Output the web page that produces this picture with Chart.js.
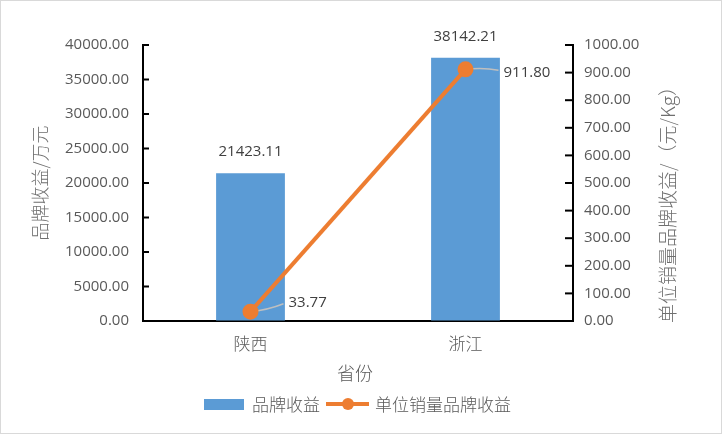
<!DOCTYPE html>
<html>
<head>
<meta charset="utf-8">
<script src="https://cdn.jsdelivr.net/npm/chart.js@4/dist/chart.umd.min.js"></script>
<style>
  html, body { margin: 0; padding: 0; background: #fff; }
  #box { width: 722px; height: 434px; position: relative; }
</style>
</head>
<body>
<div id="box"><canvas id="myChart"></canvas></div>
<script>
// 数据
const provinces = ['陕西', '浙江'];
const brandIncome = [21423.11, 38142.21];       // 品牌收益/万元
const unitIncome = [33.77, 911.80];             // 单位销量品牌收益/（元/Kg）
const leftTicks = [0, 5000, 10000, 15000, 20000, 25000, 30000, 35000, 40000];
const rightTicks = [0, 100, 200, 300, 400, 500, 600, 700, 800, 900, 1000];

const FONT = "'Open Sans','Noto Sans CJK SC',sans-serif";
const CJK = "'Noto Sans CJK SC','Open Sans',sans-serif";
const BLUE = '#5B9BD5';
const ORANGE = '#ED7D31';
const GRAY = '#595959';

const customPlugin = {
    id: 'custom',
    beforeDraw(chart) {
        const ctx = chart.ctx;
        ctx.save();
        ctx.fillStyle = '#fff';
        ctx.fillRect(0, 0, chart.width, chart.height);
        ctx.strokeStyle = '#d9d9d9';
        ctx.lineWidth = 1;
        ctx.strokeRect(0.5, 0.5, chart.width - 1, chart.height - 1);
        ctx.restore();
    },
    beforeDatasetDraw(chart, args) {
        // 引导线
        if (args.index !== 1) return;
        const ctx = chart.ctx;
        const pts = chart.getDatasetMeta(1).data;
        ctx.save();
        ctx.strokeStyle = '#bfbfbf';
        ctx.lineWidth = 1.5;
        pts.forEach(p => {
            ctx.beginPath();
            ctx.moveTo(p.x, p.y);
            ctx.quadraticCurveTo(p.x + 18, p.y - 2, p.x + 33, p.y - 8 + (p.y < 150 ? 9 : 0));
            ctx.stroke();
        });
        ctx.restore();
    },
    afterDatasetsDraw(chart) {
        const ctx = chart.ctx;
        ctx.save();
        ctx.font = '15px ' + FONT;
        ctx.fillStyle = '#404040';
        ctx.textBaseline = 'middle';
        // 柱子数值
        ctx.textAlign = 'center';
        chart.getDatasetMeta(0).data.forEach((bar, i) => {
            ctx.fillText(brandIncome[i].toFixed(2), bar.x, bar.y - 21);
        });
        // 折线数值
        ctx.textAlign = 'left';
        chart.getDatasetMeta(1).data.forEach((p, i) => {
            const dy = p.y < 150 ? 3 : -9;
            ctx.fillText(unitIncome[i].toFixed(2), p.x + 38, p.y + dy);
        });
        ctx.restore();
    },
    afterDraw(chart) {
        const ctx = chart.ctx;
        const a = chart.chartArea;
        ctx.save();
        // 刻度线（向内）
        ctx.strokeStyle = '#000';
        ctx.lineWidth = 2;
        const yl = chart.scales.y;
        leftTicks.forEach(v => {
            const y = yl.getPixelForValue(v);
            ctx.beginPath(); ctx.moveTo(a.left, y); ctx.lineTo(a.left + 6, y); ctx.stroke();
        });
        const yr = chart.scales.y1;
        rightTicks.forEach(v => {
            const y = yr.getPixelForValue(v);
            ctx.beginPath(); ctx.moveTo(a.right, y); ctx.lineTo(a.right - 8, y); ctx.stroke();
        });

        // 坐标轴标题
        ctx.fillStyle = '#6f6f6f';
        ctx.textAlign = 'center';
        ctx.textBaseline = 'middle';
        ctx.font = '300 18px ' + CJK;
        ctx.save();
        ctx.translate(40, (a.top + a.bottom) / 2);
        ctx.rotate(-Math.PI / 2);
        ctx.fillText('品牌收益/万元', 0, 0);
        ctx.restore();
        ctx.save();
        ctx.font = '300 19px ' + CJK;
        ctx.translate(668, 200);
        ctx.rotate(-Math.PI / 2);
        ctx.fillText('单位销量品牌收益/（元/Kg）', 0, 0);
        ctx.restore();
        ctx.fillStyle = GRAY;
        ctx.font = '300 18px ' + CJK;
        ctx.fillText('省份', (a.left + a.right) / 2 - 3, 373);

        // 图例
        ctx.fillStyle = BLUE;
        ctx.fillRect(204, 399, 40, 11);
        ctx.fillStyle = GRAY;
        ctx.font = '300 17px ' + CJK;
        ctx.textAlign = 'left';
        ctx.fillText('品牌收益', 252, 405);
        ctx.strokeStyle = ORANGE;
        ctx.lineWidth = 4;
        ctx.beginPath(); ctx.moveTo(326, 404); ctx.lineTo(369, 404); ctx.stroke();
        ctx.fillStyle = ORANGE;
        ctx.beginPath(); ctx.arc(348, 404, 6, 0, Math.PI * 2); ctx.fill();
        ctx.fillStyle = GRAY;
        ctx.fillText('单位销量品牌收益', 375, 405);
        ctx.restore();
    }
};

const ctx = document.getElementById('myChart');
new Chart(ctx, {
    data: {
        labels: provinces,
        datasets: [{
            type: 'bar',
            label: '品牌收益',
            data: brandIncome,
            backgroundColor: BLUE,
            yAxisID: 'y',
            order: 2,
            barPercentage: 0.32,
            categoryPercentage: 1
        }, {
            type: 'line',
            label: '单位销量品牌收益',
            data: unitIncome,
            borderColor: ORANGE,
            backgroundColor: ORANGE,
            borderWidth: 4,
            pointRadius: 6,
            pointBackgroundColor: ORANGE,
            pointBorderColor: ORANGE,
            yAxisID: 'y1',
            order: 1
        }]
    },
    options: {
        responsive: true,
        maintainAspectRatio: false,
        animation: false,
        layout: { padding: { top: 45, left: 0, right: 0, bottom: 0 } },
        plugins: {
            legend: { display: false },
            tooltip: { enabled: false }
        },
        scales: {
            x: {
                offset: true,
                grid: { display: true, drawOnChartArea: false, drawTicks: false },
                border: { display: true, color: '#000', width: 2 },
                ticks: { color: GRAY, font: { size: 17, family: CJK, weight: '300' }, padding: 12 },
                afterFit(scale) { scale.height = 113; }
            },
            y: {
                position: 'left',
                min: 0,
                max: 40000,
                afterBuildTicks(scale) { scale.ticks = leftTicks.map(v => ({ value: v })); },
                grid: { display: true, drawOnChartArea: false, drawTicks: false },
                border: { display: true, color: '#000', width: 2 },
                ticks: {
                    color: GRAY,
                    font: { size: 15, family: FONT },
                    padding: 14,
                    callback: v => Number(v).toFixed(2)
                },
                afterFit(scale) { scale.width = 143; }
            },
            y1: {
                position: 'right',
                min: 0,
                max: 1000,
                afterBuildTicks(scale) { scale.ticks = rightTicks.map(v => ({ value: v })); },
                grid: { display: true, drawOnChartArea: false, drawTicks: false },
                border: { display: true, color: '#000', width: 2 },
                ticks: {
                    color: GRAY,
                    font: { size: 15, family: FONT },
                    padding: 11,
                    callback: v => Number(v).toFixed(2)
                },
                afterFit(scale) { scale.width = 149; }
            }
        }
    },
    plugins: [customPlugin]
});
</script>
</body>
</html>
